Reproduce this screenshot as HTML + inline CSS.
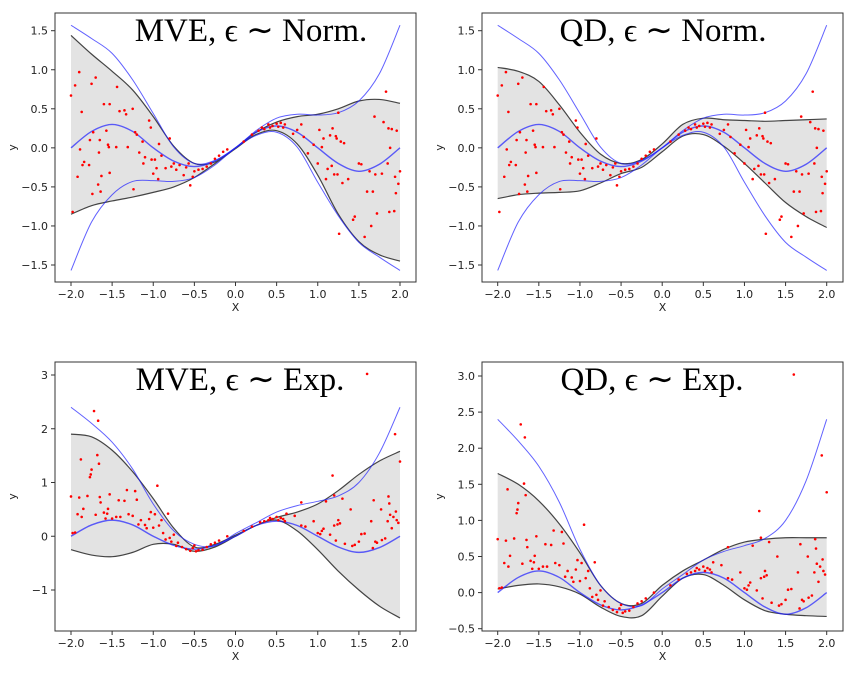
<!DOCTYPE html>
<html><head><meta charset="utf-8"><style>
body{margin:0;background:#fff;width:851px;height:669px;overflow:hidden}
svg text{font-family:"DejaVu Sans","Liberation Sans",sans-serif}
</style></head><body>
<svg id="fig" width="851" height="669"></svg>
<script>
const xs=[-2,-1.75,-1.5,-1.25,-1,-0.75,-0.5,-0.25,0,0.25,0.5,0.75,1,1.25,1.5,1.75,2];
const meanCurve=[0,0.21,0.3,0.21,0,-0.17,-0.24,-0.17,0,0.2,0.28,0.2,0,-0.2,-0.3,-0.21,0];
const normUpperBlue=[1.57,1.4,1.21,0.87,0.44,0.01,-0.2,-0.16,0,0.22,0.38,0.43,0.42,0.45,0.6,0.95,1.57];
const normLowerBlue=[-1.57,-0.95,-0.6,-0.43,-0.42,-0.43,-0.38,-0.22,0,0.16,0.2,0.01,-0.44,-0.87,-1.21,-1.4,-1.57];
const expUpperBlue=[2.4,2.1,1.75,1.25,0.6,0.1,-0.15,-0.18,0.05,0.25,0.45,0.57,0.65,0.75,1.0,1.55,2.4];
const mveNormUpper=[1.44,1.2,0.98,0.74,0.4,0.02,-0.2,-0.18,0,0.2,0.33,0.4,0.43,0.5,0.6,0.62,0.57];
const mveNormLower=[-0.85,-0.74,-0.68,-0.63,-0.57,-0.5,-0.38,-0.2,-0.01,0.17,0.22,0.05,-0.35,-0.85,-1.2,-1.37,-1.45];
const qdNormUpper=[1.03,0.98,0.85,0.55,0.2,-0.08,-0.2,-0.15,0.05,0.3,0.38,0.36,0.35,0.34,0.35,0.36,0.37];
const qdNormLower=[-0.65,-0.6,-0.58,-0.57,-0.55,-0.45,-0.33,-0.25,-0.05,0.15,0.17,0.02,-0.2,-0.45,-0.7,-0.88,-1.02];
const mveExpUpper=[1.9,1.85,1.6,1.2,0.7,0.15,-0.2,-0.15,0.02,0.2,0.35,0.45,0.6,0.85,1.15,1.4,1.58];
const mveExpLower=[-0.25,-0.35,-0.38,-0.3,-0.15,-0.15,-0.28,-0.2,0,0.2,0.3,0.1,-0.25,-0.65,-1.0,-1.3,-1.52];
const qdExpUpper=[1.65,1.5,1.27,0.95,0.55,0.1,-0.15,-0.15,0.1,0.3,0.45,0.6,0.7,0.74,0.76,0.76,0.76];
const qdExpLower=[0.05,0.1,0.12,0.08,-0.02,-0.2,-0.33,-0.32,-0.05,0.2,0.25,0.1,-0.1,-0.25,-0.3,-0.32,-0.33];
const normPts=[[-2,0.67],[-1.98,-0.82],[-1.95,0.8],[-1.92,-0.37],[-1.9,0.97],[-1.89,-0.02],[-1.87,0.46],[-1.86,-0.22],[-1.84,-0.18],[-1.78,-0.22],[-1.77,0.1],[-1.75,0.82],[-1.74,-0.59],[-1.73,0.2],[-1.7,0.9],[-1.67,-0.47],[-1.66,-0.06],[-1.65,0.1],[-1.64,-0.56],[-1.63,-0.36],[-1.6,0.56],[-1.57,0.22],[-1.55,0.04],[-1.54,0.01],[-1.53,-0.32],[-1.53,0.56],[-1.45,0.01],[-1.44,0.78],[-1.41,0.47],[-1.35,0.48],[-1.33,0.43],[-1.31,0.01],[-1.25,0.5],[-1.24,-0.53],[-1.22,0.2],[-1.2,0.17],[-1.17,-0.06],[-1.13,0.08],[-1.12,-0.2],[-1.1,-0.12],[-1.05,0.35],[-1.03,0.26],[-1.02,-0.15],[-1.0,-0.33],[-0.98,-0.15],[-0.96,-0.26],[-0.94,-0.4],[-0.93,0.05],[-0.9,-0.1],[-0.85,-0.26],[-0.8,0.12],[-0.78,-0.24],[-0.75,-0.2],[-0.72,-0.28],[-0.68,-0.22],[-0.63,-0.35],[-0.6,-0.25],[-0.57,-0.2],[-0.55,-0.48],[-0.52,-0.37],[-0.5,-0.3],[-0.45,-0.28],[-0.4,-0.27],[-0.35,-0.24],[-0.3,-0.2],[-0.25,-0.14],[-0.2,-0.1],[-0.15,-0.05],[-0.1,-0.02],[0.1,0.08],[0.2,0.17],[0.28,0.22],[0.32,0.26],[0.35,0.24],[0.4,0.3],[0.42,0.26],[0.45,0.28],[0.5,0.31],[0.52,0.27],[0.55,0.32],[0.58,0.26],[0.6,0.3],[0.7,0.18],[0.75,0.23],[0.8,0.3],[0.83,0.14],[0.88,-0.07],[0.95,0.04],[1.0,-0.2],[1.02,0.23],[1.05,0.01],[1.07,0.12],[1.1,-0.4],[1.12,-0.27],[1.15,0.16],[1.17,-0.23],[1.18,0.25],[1.2,-0.34],[1.22,0.15],[1.23,0.12],[1.24,-0.34],[1.25,0.45],[1.26,-1.1],[1.28,0.08],[1.3,-0.45],[1.32,0.06],[1.37,-0.4],[1.43,-0.92],[1.45,-0.88],[1.5,-0.2],[1.53,-0.21],[1.57,-1.14],[1.6,-0.56],[1.63,-0.3],[1.65,-1.0],[1.67,-0.56],[1.69,0.4],[1.7,-0.34],[1.72,-0.84],[1.78,-0.33],[1.8,0.33],[1.83,0.72],[1.85,-0.2],[1.86,0.25],[1.87,-0.82],[1.88,0.0],[1.9,0.24],[1.93,-0.81],[1.94,-0.37],[1.95,-0.58],[1.96,0.22],[1.98,-0.46],[2.0,-0.3]];
const expPts=[[-2,0.74],[-1.98,0.06],[-1.95,0.07],[-1.92,0.41],[-1.9,0.72],[-1.88,1.43],[-1.87,0.36],[-1.85,0.51],[-1.8,0.75],[-1.77,1.1],[-1.76,1.15],[-1.75,1.24],[-1.72,2.33],[-1.7,0.4],[-1.68,1.51],[-1.67,2.15],[-1.66,1.35],[-1.65,0.73],[-1.64,0.63],[-1.6,0.44],[-1.58,0.33],[-1.56,0.42],[-1.55,0.51],[-1.53,0.78],[-1.5,0.33],[-1.45,0.36],[-1.42,0.67],[-1.4,0.36],[-1.35,0.66],[-1.32,0.86],[-1.3,0.41],[-1.25,0.38],[-1.22,0.84],[-1.2,0.68],[-1.18,0.22],[-1.15,0.3],[-1.1,0.21],[-1.08,0.15],[-1.05,0.32],[-1.03,0.45],[-1.0,0.16],[-0.98,0.41],[-0.95,0.94],[-0.93,0.2],[-0.9,0.3],[-0.88,0.06],[-0.85,-0.06],[-0.82,0.42],[-0.8,-0.03],[-0.78,-0.1],[-0.75,0.03],[-0.72,-0.18],[-0.7,-0.12],[-0.65,-0.2],[-0.6,-0.24],[-0.55,-0.27],[-0.52,-0.22],[-0.5,-0.17],[-0.48,-0.28],[-0.45,-0.26],[-0.4,-0.25],[-0.35,-0.2],[-0.3,-0.15],[-0.25,-0.12],[-0.2,-0.08],[-0.1,0.0],[0.1,0.1],[0.2,0.18],[0.3,0.26],[0.35,0.28],[0.4,0.3],[0.42,0.34],[0.45,0.32],[0.5,0.36],[0.52,0.3],[0.55,0.34],[0.58,0.32],[0.6,0.28],[0.62,0.42],[0.72,0.38],[0.8,0.63],[0.8,0.2],[0.85,0.18],[0.95,0.28],[1.0,0.06],[1.03,0.04],[1.05,0.1],[1.07,0.14],[1.1,0.65],[1.15,0.03],[1.18,1.13],[1.2,0.76],[1.2,0.2],[1.22,-0.08],[1.24,0.22],[1.25,0.3],[1.27,0.24],[1.3,0.7],[1.33,-0.14],[1.4,0.5],[1.42,-0.18],[1.45,-0.16],[1.5,-0.1],[1.53,0.04],[1.57,0.05],[1.6,3.02],[1.65,0.28],[1.67,-0.22],[1.68,0.67],[1.7,-0.1],[1.72,-0.12],[1.77,0.5],[1.78,-0.07],[1.82,-0.04],[1.85,0.28],[1.86,0.74],[1.87,0.61],[1.88,0.4],[1.9,0.15],[1.92,0.36],[1.94,1.9],[1.95,0.46],[1.96,0.3],[1.98,0.25],[2.0,1.39]];
const xTickLabels=["\u22122.0","\u22121.5","\u22121.0","\u22120.5","0.0","0.5","1.0","1.5","2.0"];
const xTicks=[-2,-1.5,-1,-0.5,0,0.5,1,1.5,2];
const normYTicks=[-1.5,-1,-0.5,0,0.5,1,1.5];
const mveExpYTicks=[-1,0,1,2,3];
const qdExpYTicks=[-0.5,0,0.5,1,1.5,2,2.5,3];

const NS="http://www.w3.org/2000/svg";
const fig=document.getElementById('fig');
function mk(tag,attrs,parent){const e=document.createElementNS(NS,tag);for(const k in attrs)e.setAttribute(k,attrs[k]);(parent||fig).appendChild(e);return e;}
function fmt(v,dec){const s=v.toFixed(dec);return v<0?"\u2212"+s.slice(1):s;}
function smooth(pts){let d="M"+pts[0][0]+","+pts[0][1];for(let i=0;i<pts.length-1;i++){const p0=pts[Math.max(0,i-1)],p1=pts[i],p2=pts[i+1],p3=pts[Math.min(pts.length-1,i+2)];const c1=[p1[0]+(p2[0]-p0[0])/6,p1[1]+(p2[1]-p0[1])/6],c2=[p2[0]-(p3[0]-p1[0])/6,p2[1]-(p3[1]-p1[1])/6];d+="C"+c1[0].toFixed(2)+","+c1[1].toFixed(2)+" "+c2[0].toFixed(2)+","+c2[1].toFixed(2)+" "+p2[0].toFixed(2)+","+p2[1].toFixed(2);}return d;}

function panel(id,o){
  const g=mk('g',{});
  
  
  const X=v=>o.x0+(v+2)/4*(o.x1-o.x0);
  const Y=v=>o.yp1+(v-o.yv1)/(o.yv2-o.yv1)*(o.yp2-o.yp1);
  const cid='clip-'+id;
  const cp=mk('clipPath',{id:cid},g);mk('rect',{x:o.L,y:o.T,width:o.R-o.L,height:o.B-o.T},cp);
  const pl=mk('g',{'clip-path':'url(#'+cid+')'},g);
  const up=xs.map((x,i)=>[X(x),Y(o.up[i])]), lo=xs.map((x,i)=>[X(x),Y(o.lo[i])]);
  const band=mk('path',{d:smooth(up)+"L"+smooth(lo.slice().reverse()).slice(1)+"Z",fill:'#e3e3e3',stroke:'none'},pl);
  
  
  [up,lo].forEach((p,k)=>{const l=mk('path',{d:smooth(p),fill:'none',stroke:'#444',"stroke-width":1.2},pl);
    
    });
  o.blues.forEach((arr,k)=>{const l=mk('path',{d:smooth(xs.map((x,i)=>[X(x),Y(arr[i])])),fill:'none',stroke:'rgba(30,30,255,0.7)',"stroke-width":k==0?1.4:1},pl);
    
    });
  o.pts.forEach(p=>{const c=mk('circle',{cx:X(p[0]),cy:Y(p[1]),r:1.3,fill:'#ff0000'},pl);
    
    });
  const fr=mk('rect',{x:o.L,y:o.T,width:o.R-o.L,height:o.B-o.T,fill:'none',stroke:'#333',"stroke-width":1},g);
  
  
  xTicks.forEach((t,i)=>{mk('line',{x1:X(t),x2:X(t),y1:o.B,y2:o.B+4,stroke:'#333'},g);
    const tx=mk('text',{x:X(t),y:o.B+16,"font-size":11,"text-anchor":"middle",fill:'#222'},g);tx.textContent=xTickLabels[i];
    
    });
  o.yt.forEach(t=>{mk('line',{x1:o.L-4,x2:o.L,y1:Y(t),y2:Y(t),stroke:'#333'},g);
    const tx=mk('text',{x:o.L-7,y:Y(t)+4,"font-size":11,"text-anchor":"end",fill:'#222'},g);tx.textContent=fmt(t,o.dec);
    
    });
  const xl=mk('text',{x:(o.L+o.R)/2,y:o.B+29,"font-size":11,"text-anchor":"middle",fill:'#222'},g);xl.textContent='X';
  
  
  const yl=mk('text',{x:0,y:0,"font-size":11,"text-anchor":"middle",fill:'#222',transform:`translate(${o.ylx},${(o.T+o.B)/2}) rotate(-90)`},g);yl.textContent='y';
  
  
  const ti=mk('text',{x:o.tx,y:o.T+28,"font-size":33,"text-anchor":"middle",fill:'#000',style:'font-family:"Liberation Serif",serif'},g);ti.textContent=o.title;
  
  
}
panel('mve-norm',{L:55,R:416,T:13,B:282,x0:71,x1:400,yv1:1.5,yp1:30.7,yv2:-1.5,yp2:265,up:mveNormUpper,lo:mveNormLower,blues:[meanCurve,normUpperBlue,normLowerBlue],pts:normPts,yt:normYTicks,dec:1,ylx:16,tx:251,title:"MVE, \u03f5 \u223c Norm."});
panel('qd-norm',{L:482,R:843,T:13,B:282,x0:497.7,x1:826.7,yv1:1.5,yp1:30.7,yv2:-1.5,yp2:265,up:qdNormUpper,lo:qdNormLower,blues:[meanCurve,normUpperBlue,normLowerBlue],pts:normPts,yt:normYTicks,dec:1,ylx:443,tx:663,title:"QD, \u03f5 \u223c Norm."});
panel('mve-exp',{L:55,R:416,T:362,B:631,x0:71,x1:400,yv1:3,yp1:375,yv2:-1,yp2:590,up:mveExpUpper,lo:mveExpLower,blues:[meanCurve,expUpperBlue],pts:expPts,yt:mveExpYTicks,dec:0,ylx:16,tx:240,title:"MVE, \u03f5 \u223c Exp."});
panel('qd-exp',{L:482,R:843,T:362,B:631,x0:497.7,x1:826.7,yv1:3,yp1:376,yv2:-0.5,yp2:628.7,up:qdExpUpper,lo:qdExpLower,blues:[meanCurve,expUpperBlue],pts:expPts,yt:qdExpYTicks,dec:1,ylx:443,tx:652,title:"QD, \u03f5 \u223c Exp."});
</script>
</body></html>
